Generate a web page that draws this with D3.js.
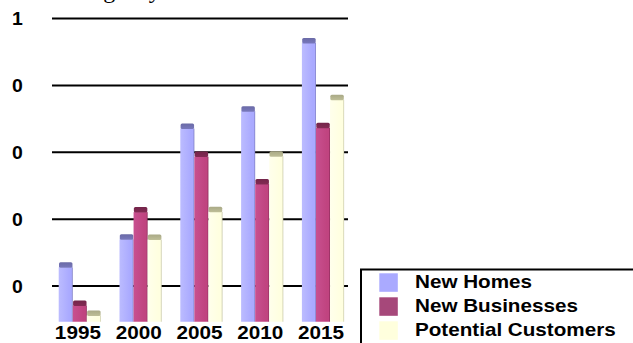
<!DOCTYPE html>
<html>
<head>
<meta charset="utf-8">
<script src="https://cdn.jsdelivr.net/npm/d3@7"></script>
<style>
  html, body { margin: 0; padding: 0; background: #fff; overflow: hidden; }
  svg { display: block; }
  text { font-family: "Liberation Sans", Arial, sans-serif; font-weight: bold; fill: #000; }
</style>
</head>
<body>
<svg id="chart" width="633" height="343"></svg>
<script>
// Category and series data
const years = ["1995", "2000", "2005", "2010", "2015"];
const seriesNames = ["New Homes", "New Businesses", "Potential Customers"];
const newHomes = [0.256, 0.340, 0.671, 0.723, 0.927];
const newBusinesses = [0.142, 0.421, 0.587, 0.505, 0.673];
const potentialCustomers = [0.112, 0.339, 0.422, 0.588, 0.757];
const tickValues = [0.2, 0.4, 0.6, 0.8, 1.0];
const titleText = "Agency Outlook";

const seriesValues = [newHomes, newBusinesses, potentialCustomers];

// Body, cap (top face) and edge colours for each series
const palette = [
  { body: "#aaaaff", light: "#bcbcff", edge: "#7c7cc0", cap: "#6a6aa6", swatch: "#aaaaff" },
  { body: "#c04480", light: "#c85090", edge: "#8a2a58", cap: "#74254a", swatch: "#a6487a" },
  { body: "#ffffe0", light: "#ffffec", edge: "#c8c8a8", cap: "#a9a986", swatch: "#ffffdd" }
];

const svg = d3.select("#chart");
const plotBottom = 321.7;

const y = d3.scaleLinear().domain([0, 1]).range([352.9, 18.5]);
const x0 = d3.scaleBand().domain(years).range([49.5, 353.5]);
const x1 = d3.scaleBand().domain(seriesNames).range([9.2, 51.4]);

// Gradients for a rounded 3D look on each bar
const defs = svg.append("defs");
palette.forEach((p, i) => {
  const g = defs.append("linearGradient").attr("id", "body" + i)
    .attr("x1", "0").attr("x2", "1").attr("y1", "0").attr("y2", "0");
  g.append("stop").attr("offset", "0").attr("stop-color", p.light);
  g.append("stop").attr("offset", "0.75").attr("stop-color", p.body);
  g.append("stop").attr("offset", "0.9").attr("stop-color", p.body);
  g.append("stop").attr("offset", "1").attr("stop-color", p.edge);
  const c = defs.append("linearGradient").attr("id", "cap" + i)
    .attr("x1", "0").attr("x2", "0").attr("y1", "0").attr("y2", "1");
  c.append("stop").attr("offset", "0").attr("stop-color", p.cap);
  c.append("stop").attr("offset", "1").attr("stop-color", d3.color(p.cap).brighter(0.35));
});
defs.append("clipPath").attr("id", "plotClip")
  .append("rect").attr("x", 0).attr("y", 0).attr("width", 360).attr("height", plotBottom);

// Title, mostly cut off above the top edge
svg.append("text")
  .attr("x", 86).attr("y", -2.5)
  .style("font-family", "'Liberation Serif', 'Times New Roman', serif")
  .style("font-weight", "normal")
  .style("font-size", "24px")
  .text(titleText);

// Horizontal gridlines
svg.append("g").selectAll("line")
  .data(tickValues)
  .join("line")
  .attr("x1", 52).attr("x2", 348)
  .attr("y1", d => y(d)).attr("y2", d => y(d))
  .attr("stroke", "#000").attr("stroke-width", 2);

// Value axis tick labels, shown as whole numbers (truncated)
const fmt = d => String(Math.floor(d + 1e-9));
svg.append("g").selectAll("text")
  .data(tickValues)
  .join("text")
  .attr("transform", d => `translate(17.5, ${y(d)}) scale(1.05,1)`)
  .attr("text-anchor", "middle")
  .attr("dy", "0.36em")
  .style("font-size", "18.5px")
  .text(d => fmt(d));

// Bars
const bars = svg.append("g").attr("clip-path", "url(#plotClip)");
const groups = bars.selectAll("g")
  .data(years)
  .join("g")
  .attr("transform", d => `translate(${x0(d)},0)`);

const capH = 5;
groups.each(function (yr, yi) {
  const g = d3.select(this);
  seriesNames.forEach((s, si) => {
    const v = seriesValues[si][yi];
    const bx = x1(s);
    const bw = x1.bandwidth();
    g.append("rect")
      .attr("x", bx).attr("y", y(v))
      .attr("width", bw).attr("height", plotBottom - y(v) + 2)
      .attr("fill", `url(#body${si})`);
    g.append("rect")
      .attr("x", bx + 0.3).attr("y", y(v) - capH)
      .attr("width", bw - 0.6).attr("height", capH + 0.5)
      .attr("rx", 1.5)
      .attr("fill", `url(#cap${si})`);
  });
});

// Category labels
svg.append("g").selectAll("text")
  .data(years)
  .join("text")
  .attr("transform", d => `translate(${x0(d) + x0.bandwidth() / 2 - 2}, 339) scale(1.12,1)`)
  .attr("text-anchor", "middle")
  .style("font-size", "18.5px")
  .text(d => d);

// Legend
const legend = svg.append("g");
legend.append("rect")
  .attr("x", 361).attr("y", 269.5)
  .attr("width", 320).attr("height", 120)
  .attr("fill", "#fff").attr("stroke", "#000").attr("stroke-width", 2);
const rows = legend.selectAll("g.row")
  .data(seriesNames)
  .join("g")
  .attr("class", "row")
  .attr("transform", (d, i) => `translate(0, ${i * 24})`);
rows.append("rect")
  .attr("x", 379.3).attr("y", 273.3)
  .attr("width", 18.5).attr("height", 18.5)
  .attr("fill", (d, i) => palette[i].swatch);
rows.append("text")
  .attr("transform", "translate(415, 288.3) scale(1.18,1)")
  .style("font-size", "17.5px")
  .text(d => d);
</script>
</body>
</html>
